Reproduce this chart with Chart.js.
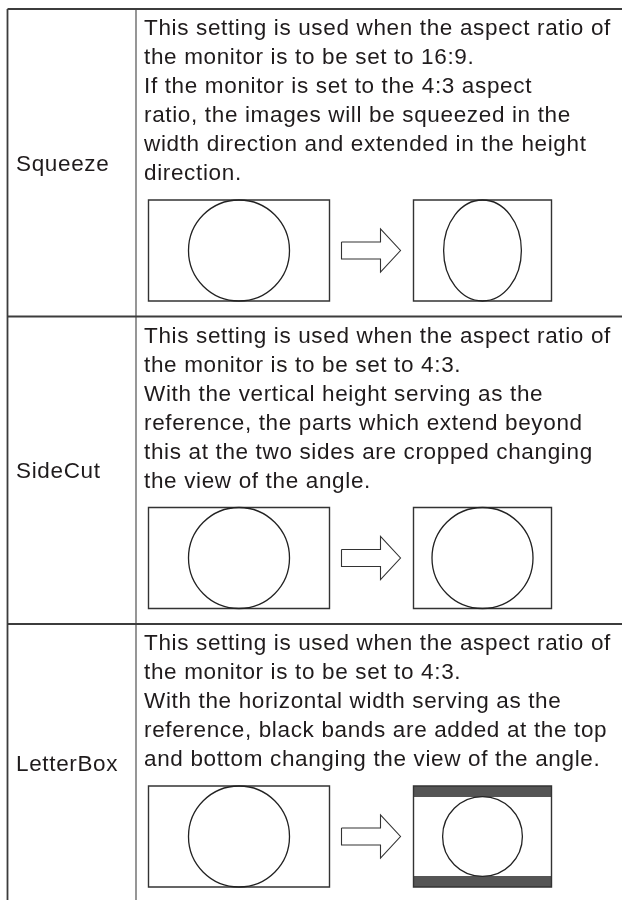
<!DOCTYPE html>
<html>
<head>
<meta charset="utf-8">
<script src="https://cdn.jsdelivr.net/npm/chart.js@4"></script>
<style>
  html, body { margin: 0; padding: 0; background: #fff; }
  canvas { display: block; }
</style>
</head>
<body>
<canvas id="myChart" width="622" height="900"></canvas>
<script>
// Table content
var modes = ['Squeeze', 'SideCut', 'LetterBox'];

var squeezeText = [
  'This setting is used when the aspect ratio of',
  'the monitor is to be set to 16:9.',
  'If the monitor is set to the 4:3 aspect',
  'ratio, the images will be squeezed in the',
  'width direction and extended in the height',
  'direction.'
];
var sideCutText = [
  'This setting is used when the aspect ratio of',
  'the monitor is to be set to 4:3.',
  'With the vertical height serving as the',
  'reference, the parts which extend beyond',
  'this at the two sides are cropped changing',
  'the view of the angle.'
];
var letterBoxText = [
  'This setting is used when the aspect ratio of',
  'the monitor is to be set to 4:3.',
  'With the horizontal width serving as the',
  'reference, black bands are added at the top',
  'and bottom changing the view of the angle.'
];
var descriptions = [squeezeText, sideCutText, letterBoxText];

// Picture inside each frame, as a share of the frame height
var sourceImage = [1.0, 1.0, 1.0];
var imageWidths = [0.77, 1.0, 0.79];
var imageHeights = [1.0, 1.0, 0.79];
var bandHeights = [0, 0, 0.11];

// Layout (canvas units)
var W = 622, H = 900;
var tableLeft = 7.5, tableTop = 9, colX = 136;
var labelX = 16, textX = 144;
var fontSize = 22.5, lineHeight = 29, firstBaseline = 26;
var boxGap = 20, rowGap = 15.5;
var frameH = 101, sourceX = 148.5, sourceW = 181, targetX = 413.5, targetW = 138;
var arrowX = 341.5;
var textColor = '#1f1b1c';

var rows = [];
var y0 = tableTop;
for (var i = 0; i < modes.length; i++) {
  var lastBaseline = y0 + firstBaseline + (descriptions[i].length - 1) * lineHeight;
  var boxTop = lastBaseline + boxGap;
  var boxBottom = boxTop + frameH;
  rows.push({ top: y0, boxTop: boxTop, boxBottom: boxBottom, bottom: boxBottom + rowGap });
  y0 = boxBottom + rowGap;
}

function lineSet(points, color, width, fillColor) {
  return {
    data: points,
    showLine: true,
    pointRadius: 0,
    pointHoverRadius: 0,
    borderColor: color,
    borderWidth: width,
    borderJoinStyle: 'miter',
    backgroundColor: fillColor || 'transparent',
    fill: fillColor ? 'shape' : false,
    tension: 0
  };
}

function rectPoints(x1, y1, x2, y2) {
  return [
    {x: x1, y: y1}, {x: x2, y: y1}, {x: x2, y: y2},
    {x: x1, y: y2}, {x: x1, y: y1}, {x: x2, y: y1}
  ];
}

var datasets = [];

// table rules
datasets.push(lineSet([{x: tableLeft, y: tableTop}, {x: W, y: tableTop}], '#3c3c3c', 1.8));
for (var r = 0; r < rows.length - 1; r++) {
  datasets.push(lineSet([{x: tableLeft, y: rows[r].bottom}, {x: W, y: rows[r].bottom}], '#3c3c3c', 1.8));
}
datasets.push(lineSet([{x: tableLeft, y: tableTop}, {x: tableLeft, y: H}], '#3c3c3c', 1.8));
datasets.push(lineSet([{x: colX, y: tableTop}, {x: colX, y: H}], '#858585', 1.7));

// frames, arrows and bands
rows.forEach(function(row, i) {
  var mid = (row.boxTop + row.boxBottom) / 2;
  datasets.push(lineSet(rectPoints(sourceX, row.boxTop, sourceX + sourceW, row.boxBottom), '#333', 1.4));
  datasets.push(lineSet(rectPoints(targetX, row.boxTop, targetX + targetW, row.boxBottom), '#333', 1.4));
  datasets.push(lineSet([
    {x: arrowX, y: mid - 8.5}, {x: arrowX + 39, y: mid - 8.5}, {x: arrowX + 39, y: mid - 21.5},
    {x: arrowX + 59, y: mid}, {x: arrowX + 39, y: mid + 21.5}, {x: arrowX + 39, y: mid + 8.5},
    {x: arrowX, y: mid + 8.5}, {x: arrowX, y: mid - 8.5}
  ], '#333', 1.1));
  if (bandHeights[i] > 0) {
    var band = bandHeights[i] * frameH;
    datasets.push(lineSet(rectPoints(targetX, row.boxTop, targetX + targetW, row.boxTop + band), '#555', 0, '#555'));
    datasets.push(lineSet(rectPoints(targetX, row.boxBottom - band, targetX + targetW, row.boxBottom), '#555', 0, '#555'));
  }
});

// ellipses and text, placed through the scales
var picturePlugin = {
  id: 'pictures',
  afterDatasetsDraw: function(chart) {
    var ctx = chart.ctx, xs = chart.scales.x, ys = chart.scales.y;
    function ellipse(cx, cy, rx, ry) {
      var px = xs.getPixelForValue(cx), py = ys.getPixelForValue(cy);
      var prx = Math.abs(xs.getPixelForValue(cx + rx) - px);
      var pry = Math.abs(ys.getPixelForValue(cy + ry) - py);
      ctx.beginPath();
      ctx.ellipse(px, py, prx, pry, 0, 0, Math.PI * 2);
      ctx.stroke();
    }
    ctx.save();
    ctx.strokeStyle = '#222';
    ctx.lineWidth = 1.3;
    rows.forEach(function(row, i) {
      var mid = (row.boxTop + row.boxBottom) / 2;
      ellipse(sourceX + sourceW / 2, mid, sourceImage[i] * frameH / 2, sourceImage[i] * frameH / 2);
      ellipse(targetX + targetW / 2, mid, imageWidths[i] * frameH / 2, imageHeights[i] * frameH / 2);
    });
    ctx.restore();
  },
  afterDraw: function(chart) {
    var ctx = chart.ctx, xs = chart.scales.x, ys = chart.scales.y;
    ctx.save();
    ctx.font = fontSize + 'px "Liberation Sans", Arial, sans-serif';
    ctx.fillStyle = textColor;
    ctx.letterSpacing = '0.65px';
    ctx.textBaseline = 'alphabetic';
    rows.forEach(function(row, i) {
      ctx.fillText(modes[i], xs.getPixelForValue(labelX), ys.getPixelForValue((row.top + row.bottom) / 2 + 8));
      descriptions[i].forEach(function(line, k) {
        ctx.fillText(line, xs.getPixelForValue(textX), ys.getPixelForValue(row.top + firstBaseline + k * lineHeight));
      });
    });
    ctx.restore();
  }
};

var ctx = document.getElementById('myChart').getContext('2d');

var myChart = new Chart(ctx, {
  type: 'scatter',
  data: { datasets: datasets },
  options: {
    responsive: false,
    animation: false,
    events: [],
    layout: { padding: 0 },
    scales: {
      x: { type: 'linear', min: 0, max: W, display: false },
      y: { type: 'linear', min: 0, max: H, reverse: true, display: false }
    },
    plugins: {
      legend: { display: false },
      tooltip: { enabled: false }
    }
  },
  plugins: [picturePlugin]
});
</script>
</body>
</html>
